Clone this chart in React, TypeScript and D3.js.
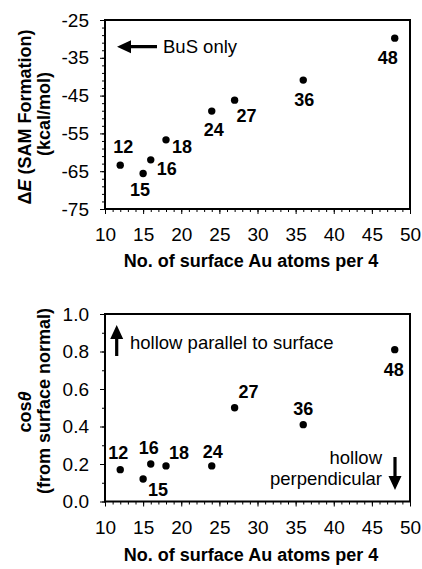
import React, { useEffect, useRef } from "react"
import * as d3 from "d3"

// surface Au atoms per 4 BuS
const atoms = [12, 15, 16, 18, 24, 27, 36, 48]
// SAM formation energy, kcal/mol
const energy = [-63.4, -65.6, -62.0, -56.7, -49.1, -46.2, -40.9, -29.8]
// cos of tilt from surface normal
const cosTheta = [0.17, 0.12, 0.2, 0.19, 0.19, 0.5, 0.41, 0.81]

const xTicks = [10, 15, 20, 25, 30, 35, 40, 45, 50]
const energyTicks = [-25, -35, -45, -55, -65, -75]
const cosTicks = [0, 0.2, 0.4, 0.6, 0.8, 1.0]

// label offsets (dx, baseline dy) for each point
const topOffsets = [[3, -12], [-3, 23], [16, 15], [16, 13], [2, 25], [12, 22], [1, 26], [-7, 26]]
const bottomOffsets = [[-2, -11], [15, 17], [-2, -10], [13, -7], [1, -8], [14, -10], [0, -10], [-1, 26]]

const W = 422
const H = 569
const FONT = "'Liberation Sans', Arial, sans-serif"

const arrow = (x1, y1, x2, y2) => {
  // filled arrow from (x1,y1) to tip (x2,y2)
  const len = Math.hypot(x2 - x1, y2 - y1)
  const ux = (x2 - x1) / len, uy = (y2 - y1) / len
  const px = -uy, py = ux
  const head = 14, hw = 6.5, sw = 1.6
  const bx = x2 - ux * head, by = y2 - uy * head
  const pts = [
    [x1 + px * sw, y1 + py * sw],
    [bx + px * sw, by + py * sw],
    [bx + px * hw, by + py * hw],
    [x2, y2],
    [bx - px * hw, by - py * hw],
    [bx - px * sw, by - py * sw],
    [x1 - px * sw, y1 - py * sw],
  ]
  return "M" + pts.map(p => p.join(",")).join("L") + "Z"
}

export default function App() {
  const ref = useRef<SVGSVGElement>(null)

  useEffect(() => {
    const svg = d3.select(ref.current)
    svg.selectAll("*").remove()

    const x = d3.scaleLinear().domain([10, 50]).range([105, 410])

    const drawPanel = (opts) => {
      const { top, bottom, domain, ticks, minorStep, fmt, values, offsets } = opts
      const y = d3.scaleLinear().domain(domain).range([bottom, top])
      const g = svg.append("g")

      // minor ticks
      g.append("g")
        .attr("transform", `translate(105,0)`)
        .call(d3.axisLeft(y).tickValues(d3.range(domain[0], domain[1] + 1e-9, minorStep)).tickSize(3).tickFormat(() => ""))
      g.append("g")
        .attr("transform", `translate(0,${bottom})`)
        .call(d3.axisBottom(x).tickValues(d3.range(10, 51, 1)).tickSize(3).tickFormat(() => ""))

      // major ticks
      g.append("g")
        .attr("transform", `translate(105,0)`)
        .call(d3.axisLeft(y).tickValues(ticks).tickSize(5).tickPadding(11).tickFormat(fmt))
      g.append("g")
        .attr("transform", `translate(0,${bottom})`)
        .call(d3.axisBottom(x).tickValues(xTicks).tickSize(5).tickPadding(14).tickFormat(d => String(d)))

      g.selectAll(".domain").remove()
      g.selectAll(".tick line").attr("stroke", "#000").attr("stroke-width", 1)
      g.selectAll(".tick text")
        .attr("font-family", FONT)
        .attr("font-size", 19)
        .attr("fill", "#000")
      g.selectAll("g").attr("font-family", null).attr("font-size", null)

      // frame
      g.append("rect")
        .attr("x", 105).attr("y", top)
        .attr("width", 305).attr("height", bottom - top)
        .attr("fill", "none").attr("stroke", "#000").attr("stroke-width", 2)

      // points
      g.selectAll("circle.pt").data(atoms).enter().append("circle")
        .attr("class", "pt")
        .attr("cx", d => x(d))
        .attr("cy", (d, i) => y(values[i]))
        .attr("r", 3.7)
        .attr("fill", "#000")

      g.selectAll("text.lbl").data(atoms).enter().append("text")
        .attr("class", "lbl")
        .attr("x", (d, i) => x(d) + offsets[i][0])
        .attr("y", (d, i) => y(values[i]) + offsets[i][1])
        .attr("text-anchor", "middle")
        .attr("font-family", FONT)
        .attr("font-size", 18)
        .attr("font-weight", "bold")
        .text(d => String(d))

      return g
    }

    const g1 = drawPanel({
      top: 20, bottom: 209, domain: [-75, -25], ticks: energyTicks, minorStep: 2,
      fmt: d => String(d), values: energy, offsets: topOffsets,
    })
    const g2 = drawPanel({
      top: 314, bottom: 501.5, domain: [0, 1], ticks: cosTicks, minorStep: 0.1,
      fmt: d3.format(".1f"), values: cosTheta, offsets: bottomOffsets,
    })

    const txt = (g, xx, yy, s, extra = {}) => {
      const t = g.append("text")
        .attr("x", xx).attr("y", yy)
        .attr("font-family", FONT)
        .attr("font-size", 18.5)
        .attr("fill", "#000")
      Object.entries(extra).forEach(([k, v]) => t.attr(k, v))
      if (s != null) t.text(s)
      return t
    }

    // top panel titles
    txt(g1, 251, 267, "No. of surface Au atoms per 4", { "text-anchor": "middle", "font-weight": "bold", "font-size": 18 })
    const yt1 = txt(g1, 0, 0, null, { "text-anchor": "middle", "font-weight": "bold", "font-size": 18, transform: "translate(31,117) rotate(-90)" })
    yt1.append("tspan").text("\u0394")
    yt1.append("tspan").attr("font-style", "italic").text("E")
    yt1.append("tspan").text(" (SAM Formation)")
    txt(g1, 0, 0, "(kcal/mol)", { "text-anchor": "middle", "font-weight": "bold", "font-size": 18, transform: "translate(50,114) rotate(-90)" })

    // BuS only
    g1.append("path").attr("d", arrow(157, 46.7, 117, 46.7)).attr("fill", "#000")
    txt(g1, 163, 53, "BuS only")

    // bottom panel titles
    txt(g2, 251, 561, "No. of surface Au atoms per 4", { "text-anchor": "middle", "font-weight": "bold", "font-size": 18 })
    const yt2 = txt(g2, 0, 0, null, { "text-anchor": "middle", "font-weight": "bold", "font-size": 18, transform: "translate(31,412) rotate(-90)" })
    yt2.append("tspan").text("cos")
    yt2.append("tspan").attr("font-style", "italic").text("\u03b8")
    txt(g2, 0, 0, "(from surface normal)", { "text-anchor": "middle", "font-weight": "bold", "font-size": 18, transform: "translate(50,401) rotate(-90)" })

    g2.append("path").attr("d", arrow(116.7, 356, 116.7, 325)).attr("fill", "#000")
    txt(g2, 130, 349, "hollow parallel to surface")
    txt(g2, 382, 464, "hollow", { "text-anchor": "end" })
    txt(g2, 382, 485, "perpendicular", { "text-anchor": "end" })
    g2.append("path").attr("d", arrow(395, 457, 395, 490)).attr("fill", "#000")
  }, [])

  return (
    <svg
      ref={ref}
      width={W}
      height={H}
      style={{ position: "absolute", left: 0, top: 0, background: "#fff" }}
    />
  )
}
